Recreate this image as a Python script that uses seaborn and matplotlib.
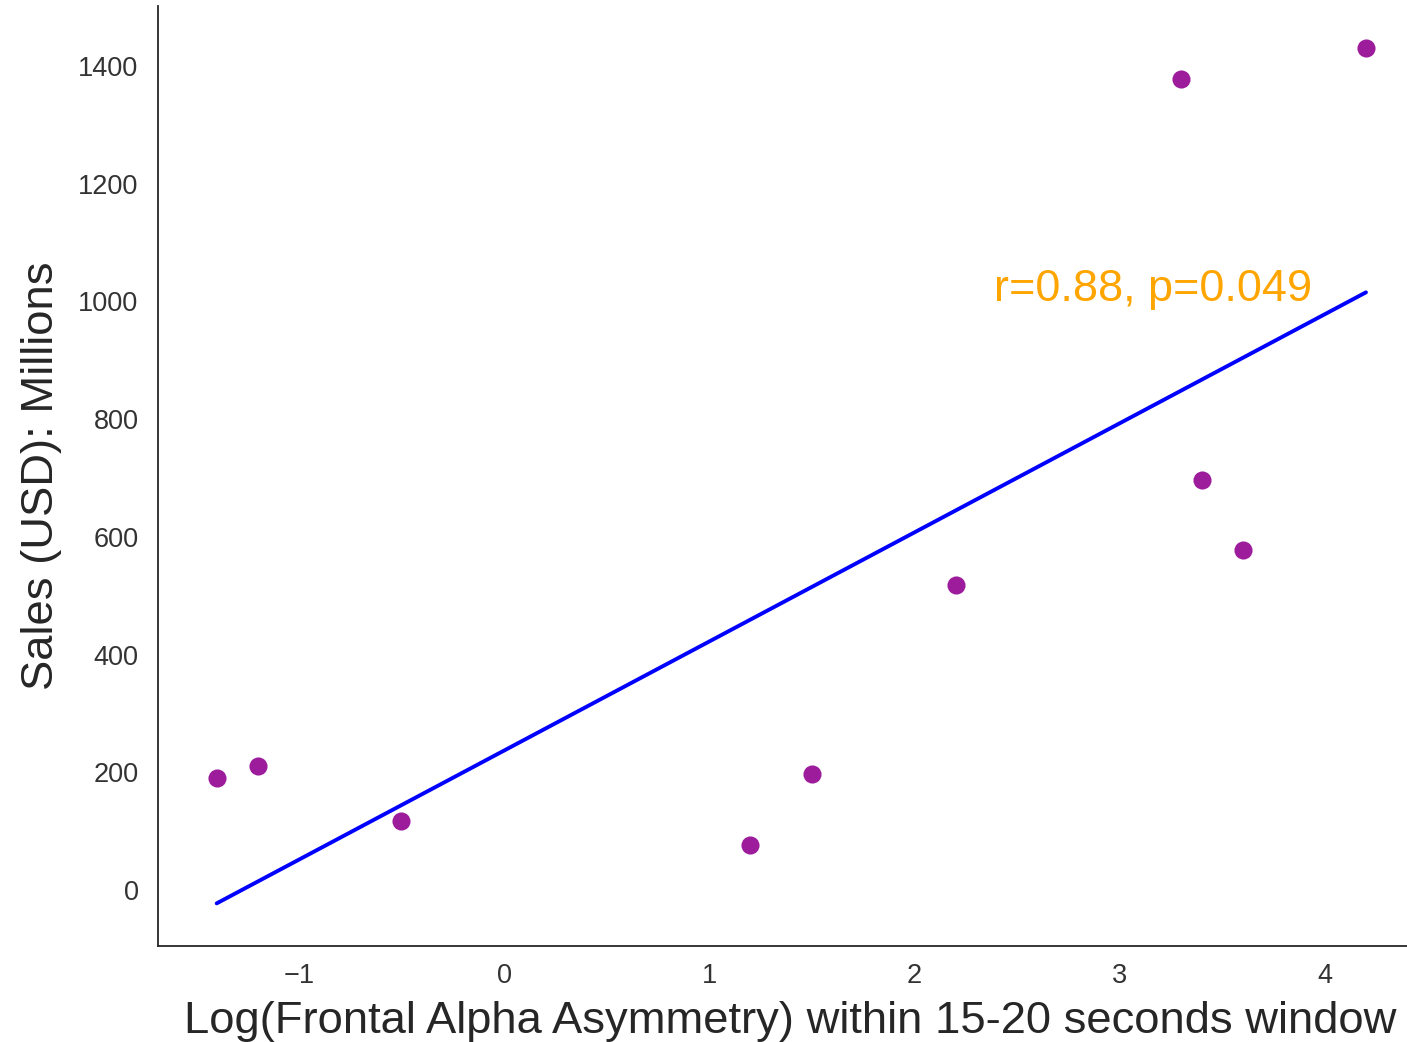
import matplotlib
matplotlib.use("Agg")
import matplotlib.pyplot as plt
import numpy as np
import pandas as pd
import seaborn as sns

# Frontal alpha asymmetry (log) vs. sales
log_faa = [-1.4, -1.2, -0.5, 1.2, 1.5, 2.2, 3.3, 3.4, 3.6, 4.2]
sales_musd = [190, 210, 117, 76, 197, 518, 1378, 697, 578, 1430]

stats_label = "r=0.88, p=0.049"

df = pd.DataFrame({"faa": log_faa, "sales": sales_musd})

sns.set_style("white")
plt.rcParams["font.family"] = ["Liberation Sans", "DejaVu Sans"]

fig = plt.figure(figsize=(14.07, 10.42), dpi=100)
# the axes run slightly past the right edge of the canvas
ax = fig.add_axes([158 / 1407, 96 / 1042, (1423 - 158) / 1407, (946 - 6) / 1042])

sns.regplot(
    data=df, x="faa", y="sales", ax=ax, ci=None,
    scatter_kws=dict(color="#9c1c9c", s=170, linewidths=0, alpha=1),
    line_kws=dict(color="blue", lw=2.8),
)

ax.set_xlim(-1.686, 4.478)
ax.set_ylim(-95, 1502)
ax.set_xticks([-1, 0, 1, 2, 3, 4])
ax.set_yticks([0, 200, 400, 600, 800, 1000, 1200, 1400])

ax.tick_params(axis="both", labelsize=19.5, labelcolor="#333333", length=0)
ax.tick_params(axis="y", pad=14)
ax.tick_params(axis="x", pad=12)

ax.set_xlabel("Log(Frontal Alpha Asymmetry) within 15-20 seconds window",
              fontsize=32.7, color="#262626", labelpad=9)
ax.set_ylabel("Sales (USD): Millions", fontsize=32.7, color="#262626", labelpad=12)

ax.text(2.39, 1000, stats_label, color="orange", fontsize=32.5, va="baseline")

for side in ("top", "right"):
    ax.spines[side].set_visible(False)
for side in ("left", "bottom"):
    ax.spines[side].set_color("#262626")
    ax.spines[side].set_linewidth(1.3)

fig.savefig("out.png", dpi=100)
